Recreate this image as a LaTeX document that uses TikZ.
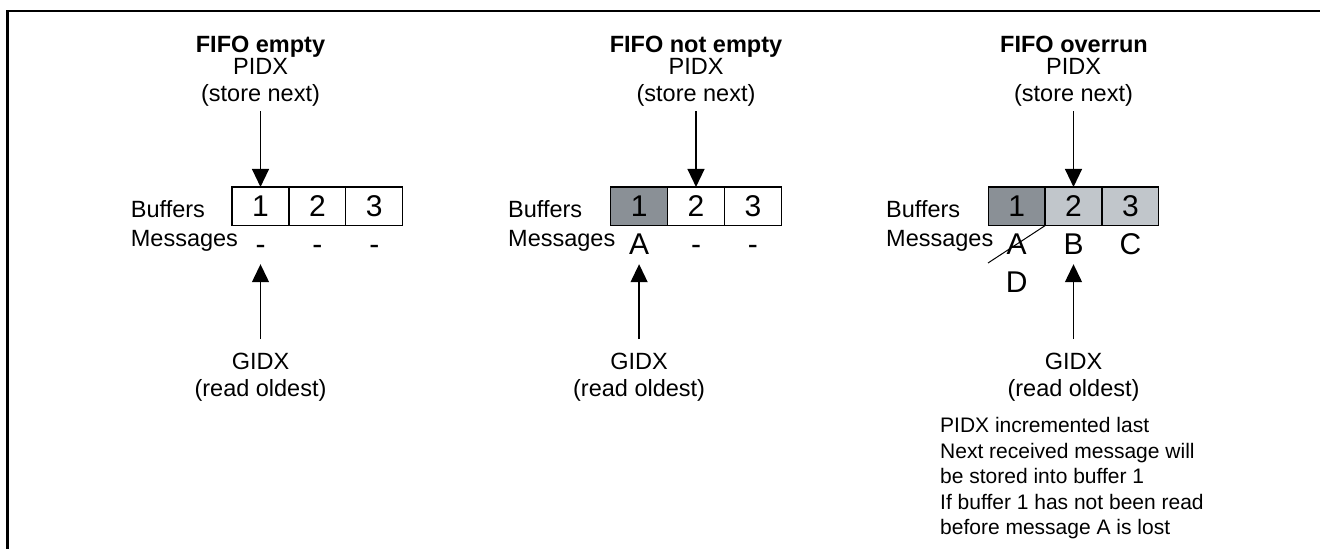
\documentclass[tikz,border=0pt]{standalone}
\usepackage{fontspec}
\setmainfont{Liberation Sans}
\usetikzlibrary{arrows.meta,positioning}

\definecolor{bufread}{HTML}{8A9096}
\definecolor{bufheld}{HTML}{C1C6CB}

\begin{document}
\begin{tikzpicture}[
  x=1pt, y=-1pt,
  every node/.style={font=\fontsize{23.5}{27}\selectfont},
  title/.style={anchor=base, inner sep=0pt,
                font=\bfseries\fontsize{23.5}{27}\selectfont},
  ptr/.style={align=center, anchor=north, inner sep=0pt},
  cell/.style={draw, line width=1.2pt, inner sep=0pt, outer sep=0pt,
               minimum width=56.9pt, minimum height=38.7pt,
               font=\fontsize{30}{30}\selectfont},
  msg/.style={anchor=base, inner sep=0pt, font=\fontsize{30}{30}\selectfont},
  rowlbl/.style={anchor=base west, inner sep=0pt},
  note/.style={anchor=north west, align=left, inner sep=0pt,
               font=\fontsize{21}{25.5}\selectfont},
  arr/.style={-{Triangle[length=18pt,width=17pt]}, line width=1.3pt},
  frame/.style={line width=2.4pt}
]
\useasboundingbox (0,0) rectangle (1320,549);
\draw[frame] (1320,11) -- (7.5,11) -- (7.5,549);

% FIFO empty
\node[title] (atitle) at (260.5,52) {FIFO empty};
\node[ptr] (apidx) at (260.5,58) {PIDX\\(store next)};
\node[cell] (a1) at (260.5,206.3) {1};
\node[cell, right=0pt of a1] (a2) {2};
\node[cell, right=0pt of a2] (a3) {3};
\node[rowlbl] (abuf) at (130.7,217.7) {Buffers};
\node[rowlbl] (amsg) at (130.7,246.7) {Messages};
\node[msg] (am1) at (260.5,254) {-};
\node[msg] (am2) at (317.4,254) {-};
\node[msg] (am3) at (374.3,254) {-};
\node[ptr] (agidx) at (260.5,353) {GIDX\\(read oldest)};
\draw[arr, shorten <=5pt] (apidx.south) -- (a1.north);
\draw[arr, shorten <=14pt, shorten >=10pt] (agidx.north) -- (am1.south);

% FIFO not empty
\node[title] (btitle) at (696,52) {FIFO not empty};
\node[ptr] (bpidx) at (696,58) {PIDX\\(store next)};
\node[cell, fill=bufread] (b1) at (639.1,206.3) {1};
\node[cell, right=0pt of b1] (b2) {2};
\node[cell, right=0pt of b2] (b3) {3};
\node[rowlbl] (bbuf) at (508,217.7) {Buffers};
\node[rowlbl] (bmsg) at (508,246.7) {Messages};
\node[msg] (bm1) at (639.1,254) {A};
\node[msg] (bm2) at (696,254) {-};
\node[msg] (bm3) at (752.9,254) {-};
\node[ptr] (bgidx) at (639.1,353) {GIDX\\(read oldest)};
\draw[arr, shorten <=5pt] (bpidx.south) -- (b2.north);
\draw[arr, shorten <=14pt, shorten >=10pt] (bgidx.north) -- (bm1.south);

% FIFO overrun
\node[title] (ctitle) at (1074,52) {FIFO overrun};
\node[ptr] (cpidx) at (1073.5,58) {PIDX\\(store next)};
\node[cell, fill=bufread] (c1) at (1016.6,206.3) {1};
\node[cell, fill=bufheld, right=0pt of c1] (c2) {2};
\node[cell, fill=bufheld, right=0pt of c2] (c3) {3};
\node[rowlbl] (cbuf) at (886,217.7) {Buffers};
\node[rowlbl] (cmsg) at (886,246.7) {Messages};
\node[msg] (cm1) at (1016.6,254) {A};
\node[msg] (cm2) at (1073.5,254) {B};
\node[msg] (cm3) at (1130.4,254) {C};
\node[msg] (cnew) at (1016.6,292) {D};
\coordinate (cstrike) at (988,263);
\draw[line width=1pt] (c1.south east) -- (cstrike);
\node[ptr] (cgidx) at (1073.5,353) {GIDX\\(read oldest)};
\draw[arr, shorten <=5pt] (cpidx.south) -- (c2.north);
\draw[arr, shorten <=14pt, shorten >=10pt] (cgidx.north) -- (cm2.south);

\node[note] (cnote) at (940,417.5) {PIDX incremented last\\
  Next received message will\\
  be stored into buffer 1\\
  If buffer 1 has not been read\\
  before message A is lost};
\end{tikzpicture}
\end{document}
